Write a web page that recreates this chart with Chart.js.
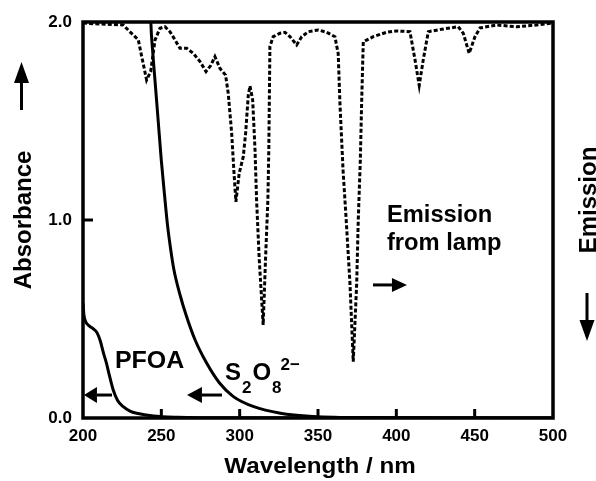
<!DOCTYPE html>
<html><head><meta charset="utf-8">
<script src="https://cdn.jsdelivr.net/npm/chart.js@4.4.1/dist/chart.umd.min.js"></script>
<style>html,body{margin:0;padding:0;background:#fff;}canvas{display:block;}</style>
</head><body>
<canvas id="c" width="596" height="481"></canvas>
<script>
// ---- data ----
const xTicks = [200, 250, 300, 350, 400, 450, 500];
const yTicks = [0.0, 1.0, 2.0];

const pfoaWl  = [200, 200.6, 201.5, 204, 206.6, 209, 211, 213, 215, 217, 219.3, 222, 225.7, 230, 234.3, 245, 260, 300, 500];
const pfoaAbs = [0.58, 0.52, 0.49, 0.465, 0.45, 0.43, 0.39, 0.33, 0.276, 0.21, 0.141, 0.09, 0.057, 0.035, 0.024, 0.01, 0.004, 0.001, 0.0];

const persWl  = [243.0, 243.3, 244.5, 246, 248, 250, 252, 254, 256, 258, 262, 266, 271.5, 279, 287, 296, 309, 326, 347, 380, 500];
const persAbs = [2.1, 2.0, 1.85, 1.70, 1.50, 1.30, 1.13, 0.97, 0.85, 0.75, 0.62, 0.515, 0.395, 0.276, 0.178, 0.108, 0.057, 0.024, 0.008, 0.002, 0.0];

const lampWl = [200, 210, 218, 225.7, 230, 235.3, 237.5, 240.6, 243.2, 246, 249.1, 252.3, 255.5, 258.7, 261.9, 266.2, 270.4, 274.7, 278.5, 281.5, 284.2, 287.4, 291, 292.7, 294.9, 296.4, 297.6, 299.7, 302.3, 303.8, 305.5, 306.6, 308.3, 309.8, 310.8, 312.5, 315, 316.5, 318, 318.6, 319.3, 321.4, 325.7, 328.9, 332.1, 336.4, 339.6, 343.8, 350.2, 355.5, 360.8, 362.9, 364, 366, 368, 370.4, 372.5, 374.7, 375.7, 377, 377.9, 378.9, 385.3, 393.8, 400.2, 408.7, 411.9, 414.6, 417.2, 420.4, 427.8, 439.5, 442.7, 446.5, 450.2, 453.4, 464, 476.8, 489.5, 500];
const lampEm = [1.995, 1.99, 1.988, 1.985, 1.95, 1.91, 1.825, 1.707, 1.75, 1.91, 1.968, 1.976, 1.951, 1.91, 1.867, 1.867, 1.842, 1.80, 1.75, 1.78, 1.825, 1.766, 1.732, 1.64, 1.438, 1.236, 1.092, 1.236, 1.32, 1.438, 1.63, 1.677, 1.606, 1.354, 1.10, 0.8, 0.47, 0.8, 1.10, 1.354, 1.876, 1.926, 1.943, 1.948, 1.926, 1.884, 1.926, 1.951, 1.96, 1.948, 1.926, 1.84, 1.59, 1.25, 1.0, 0.68, 0.284, 0.68, 1.0, 1.3, 1.606, 1.90, 1.926, 1.948, 1.955, 1.951, 1.81, 1.68, 1.81, 1.951, 1.962, 1.976, 1.943, 1.842, 1.926, 1.97, 1.985, 1.976, 1.985, 1.995];

const FONT = '"Liberation Sans", Arial, Helvetica, sans-serif';

function pts(xs, ys) { return xs.map((x, i) => ({ x: x, y: ys[i] })); }

// annotation anchors in data units
const notes = {
  pfoaText: { x: 220.4, y: 0.2525 },
  persText: { x: 290.6, y: 0.192 },
  lampText1: { x: 394.0, y: 0.99 },
  lampText2: { x: 394.0, y: 0.848 },
  pfoaArrow: { tip: 200.6, base: 208.9, tail: 218.5, y: 0.116 },
  persArrow: { tip: 266.4, base: 275.9, tail: 288.7, y: 0.116 },
  lampArrow: { tip: 406.8, base: 397.2, tail: 385.1, y: 0.672 }
};

function txt(ctx, s, x, y, size, sx, align) {
  ctx.save();
  ctx.font = 'bold ' + size + 'px ' + FONT;
  ctx.fillStyle = '#000';
  ctx.textBaseline = 'alphabetic';
  ctx.textAlign = align || 'left';
  ctx.translate(x, y);
  ctx.scale(sx || 1, 1);
  ctx.fillText(s, 0, 0);
  const w = ctx.measureText(s).width * (sx || 1);
  ctx.restore();
  return w;
}

function hArrow(ctx, tip, base, tail, y, half) {
  ctx.save();
  ctx.strokeStyle = '#000'; ctx.fillStyle = '#000'; ctx.lineWidth = 3;
  ctx.beginPath(); ctx.moveTo(base, y); ctx.lineTo(tail, y); ctx.stroke();
  ctx.beginPath(); ctx.moveTo(tip, y); ctx.lineTo(base, y - half); ctx.lineTo(base, y + half); ctx.closePath(); ctx.fill();
  ctx.restore();
}
function vArrow(ctx, x, tip, base, tail, half) {
  ctx.save();
  ctx.strokeStyle = '#000'; ctx.fillStyle = '#000'; ctx.lineWidth = 3;
  ctx.beginPath(); ctx.moveTo(x, base); ctx.lineTo(x, tail); ctx.stroke();
  ctx.beginPath(); ctx.moveTo(x, tip); ctx.lineTo(x - half, base); ctx.lineTo(x + half, base); ctx.closePath(); ctx.fill();
  ctx.restore();
}

const decor = {
  id: 'decor',
  afterDraw(chart) {
    const ctx = chart.ctx, a = chart.chartArea;
    const xs = chart.scales.x, ys = chart.scales.y;
    ctx.save();
    // frame
    ctx.strokeStyle = '#000';
    ctx.lineWidth = 3.5;
    ctx.strokeRect(a.left, a.top, a.right - a.left, a.bottom - a.top);
    // inward ticks
    ctx.lineWidth = 3;
    xTicks.forEach(v => {
      if (v === xs.min || v === xs.max) return;
      const p = xs.getPixelForValue(v);
      ctx.beginPath(); ctx.moveTo(p, a.bottom); ctx.lineTo(p, a.bottom - 9); ctx.stroke();
    });
    yTicks.forEach(v => {
      if (v === ys.min || v === ys.max) return;
      const p = ys.getPixelForValue(v);
      ctx.beginPath(); ctx.moveTo(a.left, p); ctx.lineTo(a.left + 10, p); ctx.stroke();
    });
    ctx.restore();

    const X = v => xs.getPixelForValue(v), Y = v => ys.getPixelForValue(v);
    // in-plot labels
    txt(ctx, 'PFOA', X(notes.pfoaText.x), Y(notes.pfoaText.y), 24, 1.04);
    let px = X(notes.persText.x), py = Y(notes.persText.y);
    px += txt(ctx, 'S', px, py, 24, 1.0);
    px += txt(ctx, '2', px + 1, py + 13, 17, 1.0) + 2;
    px += txt(ctx, 'O', px, py, 24, 1.0) + 1;
    px += txt(ctx, '8', px, py + 13, 17, 1.0) - 1;
    txt(ctx, '2\u2212', px, py - 10, 17, 1.0);
    txt(ctx, 'Emission', X(notes.lampText1.x), Y(notes.lampText1.y), 23, 1.03);
    txt(ctx, 'from lamp', X(notes.lampText2.x), Y(notes.lampText2.y), 23, 1.03);
    // arrows in plot
    [notes.pfoaArrow, notes.persArrow].forEach(o => hArrow(ctx, X(o.tip), X(o.base), X(o.tail), Y(o.y), 8));
    hArrow(ctx, X(notes.lampArrow.tip), X(notes.lampArrow.base), X(notes.lampArrow.tail), Y(notes.lampArrow.y), 7);

    // axis titles
    txt(ctx, 'Wavelength / nm', (a.left + a.right) / 2 + 2, 473, 22, 1.1, 'center');
    ctx.save();
    ctx.translate(31, (a.top + a.bottom) / 2 + 0);
    ctx.rotate(-Math.PI / 2);
    txt(ctx, 'Absorbance', 0, 0, 24, 1.0, 'center');
    ctx.restore();
    ctx.save();
    ctx.translate(596 - 0.5, 200);
    ctx.rotate(-Math.PI / 2);
    txt(ctx, 'Emission', 0, 0, 24, 1.0, 'center');
    ctx.restore();
    vArrow(ctx, 21.5, 62, 83, 110, 7.5);
    vArrow(ctx, 587, 341, 320, 293, 7.5);
  }
};

new Chart(document.getElementById('c'), {
  type: 'line',
  data: {
    datasets: [
      { label: 'PFOA', data: pts(pfoaWl, pfoaAbs), borderColor: '#000', borderWidth: 3, pointRadius: 0, cubicInterpolationMode: 'monotone', fill: false },
      { label: 'S2O8', data: pts(persWl, persAbs), borderColor: '#000', borderWidth: 3, pointRadius: 0, cubicInterpolationMode: 'monotone', fill: false },
      { label: 'Lamp emission', data: pts(lampWl, lampEm), borderColor: '#000', borderWidth: 3, borderDash: [4, 2.2], pointRadius: 0, tension: 0, fill: false }
    ]
  },
  options: {
    responsive: false,
    animation: false,
    devicePixelRatio: 1,
    layout: { padding: { left: 0, right: 43, top: 22, bottom: 0 } },
    plugins: { legend: { display: false }, tooltip: { enabled: false } },
    scales: {
      x: {
        type: 'linear', min: 200, max: 500,
        afterBuildTicks: s => { s.ticks = xTicks.map(v => ({ value: v })); },
        afterFit: s => { s.height = 63; },
        grid: { display: false, drawTicks: false },
        border: { display: false },
        ticks: { color: '#000', padding: 8, maxRotation: 0, autoSkip: false, font: { family: FONT, size: 17, weight: 'bold' }, callback: v => String(v) }
      },
      y: {
        type: 'linear', min: 0, max: 2,
        afterBuildTicks: s => { s.ticks = yTicks.map(v => ({ value: v })); },
        afterFit: s => { s.width = 83; },
        grid: { display: false, drawTicks: false },
        border: { display: false },
        ticks: { color: '#000', padding: 11, autoSkip: false, font: { family: FONT, size: 17, weight: 'bold' }, callback: v => Number(v).toFixed(1) }
      }
    }
  },
  plugins: [decor]
});
</script>
</body></html>
